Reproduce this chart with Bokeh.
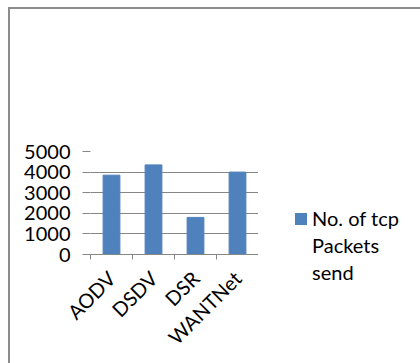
from bokeh.plotting import figure
from bokeh.layouts import row
from bokeh.models import FixedTicker, ColumnDataSource, Div
from bokeh.embed import file_html
from bokeh.resources import INLINE
import math

# Protocols and number of TCP packets sent
protocols = ["AODV", "DSDV", "DSR", "WANTNet"]
packets_sent = [3850, 4350, 1800, 4000]
y_ticks = [0, 1000, 2000, 3000, 4000, 5000]
series_label = ["No. of tcp", "Packets", "send"]

FONT = "Lato"
BLUE = "#4F81BD"
GRID = "#868686"

positions = [i + 0.5 for i in range(len(protocols))]
source = ColumnDataSource(dict(x=positions, top=packets_sent, name=protocols))

p = figure(width=248, height=354, x_range=(0, len(protocols)), y_range=(0, 5000),
           output_backend="svg", toolbar_location=None, tools="",
           min_border_left=80, min_border_right=0,
           min_border_top=142, min_border_bottom=109)
p.outline_line_color = None
p.background_fill_color = "white"
p.border_fill_color = "white"

p.vbar(x="x", top="top", width=0.4, source=source,
       fill_color=BLUE, line_color=BLUE)

# y axis: grey ticks continuing the gridlines, no axis line
p.yaxis.ticker = FixedTicker(ticks=y_ticks)
p.yaxis.axis_line_color = None
p.yaxis.major_tick_line_color = GRID
p.yaxis.major_tick_out = 8
p.yaxis.major_tick_in = 0
p.yaxis.minor_tick_line_color = None
p.yaxis.major_label_standoff = 12
p.yaxis.major_label_text_font = FONT
p.yaxis.major_label_text_font_size = "20px"
p.yaxis.major_label_text_color = "black"

# x axis: labels at bar centres, tick marks at category boundaries
p.xaxis.ticker = FixedTicker(ticks=positions,
                             minor_ticks=list(range(len(protocols) + 1)))
p.xaxis.major_label_overrides = {pos: name for pos, name in zip(positions, protocols)}
p.xaxis.axis_line_color = GRID
p.xaxis.major_tick_line_color = None
p.xaxis.minor_tick_line_color = GRID
p.xaxis.minor_tick_out = 5
p.xaxis.minor_tick_in = 0
p.xaxis.major_label_orientation = math.pi / 4
p.xaxis.major_label_standoff = 14
p.xaxis.major_label_text_font = FONT
p.xaxis.major_label_text_font_size = "20px"
p.xaxis.major_label_text_color = "black"

p.xgrid.grid_line_color = None
p.ygrid.ticker = FixedTicker(ticks=y_ticks)
p.ygrid.grid_line_color = GRID

# legend to the right of the plot area: swatch beside the wrapped series name
legend_html = (
    f'<div style="position:relative;width:162px;height:354px;'
    f'font-family:{FONT};font-size:20px;color:#000;">'
    f'<div style="position:absolute;left:37px;top:204px;width:12px;height:12px;'
    f'background:{BLUE};"></div>'
    f'<div style="position:absolute;left:54px;top:196px;line-height:27px;'
    f'white-space:nowrap;">{"<br>".join(series_label)}</div>'
    f'</div>'
)
legend_box = Div(text=legend_html, width=162, height=354,
                 styles={"margin": "0", "padding": "0"})

layout = row(p, legend_box)
# chart area border along the top and left
layout.styles = {"margin-left": "8px", "margin-top": "7px",
                 "border-left": "2px solid #8c8c8c", "border-top": "2px solid #8c8c8c"}

open("out.html", "w").write(file_html(layout, INLINE))
